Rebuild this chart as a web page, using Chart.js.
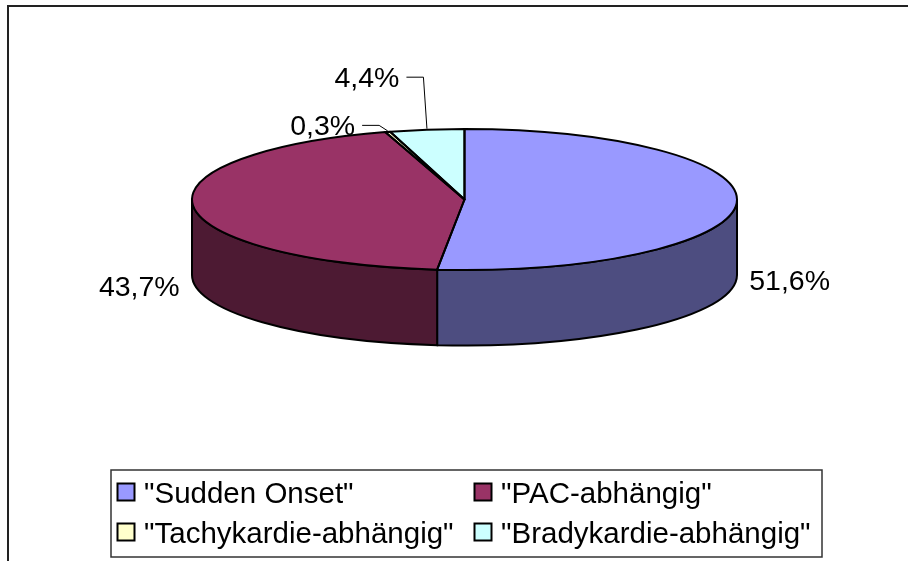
<!DOCTYPE html>
<html>
<head>
<meta charset="utf-8">
<script src="https://cdn.jsdelivr.net/npm/chart.js@4/dist/chart.umd.min.js"></script>
<style>
  html, body { margin: 0; padding: 0; background: #fff; }
  #wrap { width: 908px; height: 561px; }
</style>
</head>
<body>
<div id="wrap"><canvas id="pieChart" width="908" height="561"></canvas></div>
<script>
const categories = ['"Sudden Onset"', '"PAC-abhängig"', '"Tachykardie-abhängig"', '"Bradykardie-abhängig"'];
const shares = [51.6, 43.7, 0.3, 4.4];
const topColors = ['#9999FF', '#993366', '#FFFFCC', '#CCFFFF'];
const sideColors = ['#4D4D80', '#4D1A33', '#80805F', '#668080'];

// ellipse of the top face and the height of the wall
const CX = 464.5, CY = 199.5, RX = 272.5, RY = 70.5, DEPTH = 75.5;
// where each percentage sits, relative to the middle of its slice edge
const labelOffsets = [[53, 87], [-54, 90], [-65, 3], [-60, -43]];
const FONT = '"Liberation Sans", Arial, sans-serif';

function formatShare(v) {
  return v.toFixed(1).replace('.', ',') + '%';
}

function edgePoint(a, dy) {
  return [CX + RX * Math.cos(a), CY + (dy || 0) + RY * Math.sin(a)];
}

function drawWall(ctx, a0, a1, fill) {
  ctx.beginPath();
  ctx.ellipse(CX, CY, RX, RY, 0, a0, a1);
  const p = edgePoint(a1, DEPTH);
  ctx.lineTo(p[0], p[1]);
  ctx.ellipse(CX, CY + DEPTH, RX, RY, 0, a1, a0, true);
  ctx.closePath();
  ctx.fillStyle = fill;
  ctx.fill();
  ctx.lineWidth = 2;
  ctx.strokeStyle = '#000';
  ctx.stroke();
}

const pie3d = {
  id: 'pie3d',
  beforeDraw(chart) {
    const ctx = chart.ctx;
    ctx.save();
    ctx.fillStyle = '#fff';
    ctx.fillRect(0, 0, chart.width, chart.height);
    ctx.lineWidth = 2;
    ctx.strokeStyle = '#222';
    ctx.strokeRect(8, 6, 1000, 1000);
    ctx.restore();
  },
  beforeDatasetsDraw(chart) {
    const ctx = chart.ctx;
    const arcs = chart.getDatasetMeta(0).data;
    // front walls, only the half that faces the viewer
    arcs.forEach((arc, i) => {
      for (let n = -1; n <= 1; n++) {
        const lo = Math.max(arc.startAngle, n * 2 * Math.PI);
        const hi = Math.min(arc.endAngle, n * 2 * Math.PI + Math.PI);
        if (hi > lo) drawWall(ctx, lo, hi, sideColors[i]);
      }
    });
    // squash the library's round pie onto the top ellipse
    const a = arcs[0];
    ctx.save();
    ctx.translate(CX, CY);
    ctx.scale(RX / a.outerRadius, RY / a.outerRadius);
    ctx.translate(-a.x, -a.y);
  },
  afterDatasetsDraw(chart) {
    const ctx = chart.ctx;
    ctx.restore();
    const arcs = chart.getDatasetMeta(0).data;
    ctx.save();
    ctx.lineWidth = 2;
    ctx.strokeStyle = '#000';
    ctx.lineJoin = 'round';
    arcs.forEach((arc) => {
      const p = edgePoint(arc.startAngle);
      ctx.beginPath();
      ctx.moveTo(CX, CY);
      ctx.lineTo(p[0], p[1]);
      ctx.ellipse(CX, CY, RX, RY, 0, arc.startAngle, arc.endAngle);
      ctx.closePath();
      ctx.stroke();
    });

    // percentage labels
    ctx.font = '28.5px ' + FONT;
    ctx.fillStyle = '#000';
    ctx.textAlign = 'center';
    ctx.textBaseline = 'alphabetic';
    arcs.forEach((arc, i) => {
      const mid = (arc.startAngle + arc.endAngle) / 2;
      const anchor = edgePoint(mid);
      const tx = anchor[0] + labelOffsets[i][0];
      const ty = anchor[1] + labelOffsets[i][1];
      const text = formatShare(shares[i]);
      ctx.fillText(text, tx, ty);
      if (shares[i] < 5) {
        const right = tx + ctx.measureText(text).width / 2;
        const ly = ty - 9.5;
        ctx.beginPath();
        ctx.lineWidth = 1;
        ctx.moveTo(right + 7, ly);
        ctx.lineTo(right + 24, ly);
        ctx.lineTo(anchor[0], anchor[1] - 1);
        ctx.stroke();
      }
    });
    ctx.restore();
  },
  afterDraw(chart) {
    // legend box, two columns
    const ctx = chart.ctx;
    ctx.save();
    ctx.lineWidth = 1.5;
    ctx.strokeStyle = '#333';
    ctx.strokeRect(111, 470, 711, 87);
    const colX = [117.5, 474.5];
    const rowY = [483.5, 523.5];
    ctx.font = '29.5px ' + FONT;
    ctx.textAlign = 'left';
    ctx.textBaseline = 'alphabetic';
    categories.forEach((name, i) => {
      const x = colX[i % 2], y = rowY[Math.floor(i / 2)];
      ctx.fillStyle = topColors[i];
      ctx.fillRect(x, y, 17, 17);
      ctx.lineWidth = 2;
      ctx.strokeStyle = '#000';
      ctx.strokeRect(x, y, 17, 17);
      ctx.fillStyle = '#000';
      ctx.fillText(name, x + 26.5, y + 19.5);
    });
    ctx.restore();
  }
};

new Chart(document.getElementById('pieChart'), {
  type: 'pie',
  data: {
    labels: categories,
    datasets: [{
      data: shares,
      backgroundColor: topColors,
      borderWidth: 0,
      radius: RX
    }]
  },
  options: {
    responsive: false,
    animation: false,
    events: [],
    layout: { padding: 0 },
    plugins: {
      legend: { display: false },
      tooltip: { enabled: false }
    }
  },
  plugins: [pie3d]
});
</script>
</body>
</html>
